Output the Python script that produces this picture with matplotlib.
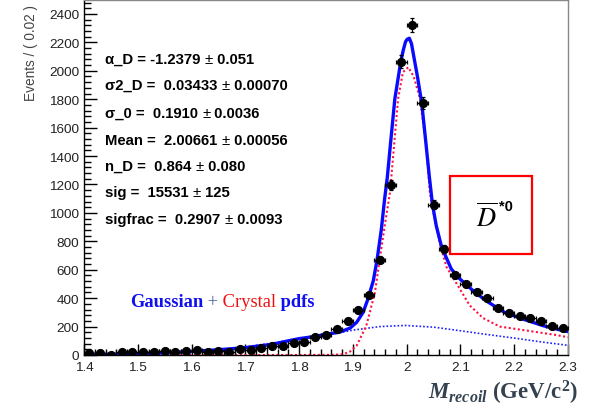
import numpy as np
import matplotlib
matplotlib.use('Agg')
import matplotlib.pyplot as plt
from matplotlib.ticker import MultipleLocator, FuncFormatter
from matplotlib.patches import Rectangle

# ---------------- data ----------------
bin_centers = [1.41, 1.43, 1.45, 1.47, 1.49, 1.51, 1.53, 1.55, 1.57, 1.59,
               1.61, 1.63, 1.65, 1.67, 1.69, 1.71, 1.73, 1.75, 1.77, 1.79,
               1.81, 1.83, 1.85, 1.87, 1.89, 1.91, 1.93, 1.95, 1.97, 1.99,
               2.01, 2.03, 2.05, 2.07, 2.09, 2.11, 2.13, 2.15, 2.17, 2.19,
               2.21, 2.23, 2.25, 2.27, 2.29]
counts = [12, 14, 2, 20, 20, 20, 20, 28, 22, 26,
          35, 22, 30, 22, 40, 37, 52, 61, 66, 82,
          94, 124, 141, 183, 237, 319, 422, 671, 1198, 2064,
          2320, 1773, 1058, 746, 563, 500, 441, 399, 329, 293,
          277, 258, 242, 206, 188]

fit_x = [1.40, 1.45, 1.50, 1.55, 1.60, 1.65, 1.70, 1.75, 1.78, 1.80,
         1.83, 1.85, 1.875, 1.895, 1.907, 1.919, 1.928, 1.938, 1.945, 1.953,
         1.959, 1.964, 1.969, 1.978, 1.989, 1.994, 1.998, 2.001, 2.005, 2.009,
         2.015, 2.020, 2.028, 2.035, 2.042, 2.048, 2.055, 2.065, 2.083, 2.099,
         2.127, 2.152, 2.182, 2.216, 2.254, 2.291, 2.30]
fit_total = [3, 5, 9, 15, 25, 37, 52, 75, 100, 115,
             131, 146, 160, 190, 230, 300, 394, 523, 671, 887,
             1098, 1250, 1450, 1802, 2064, 2150, 2205, 2222, 2229, 2190,
             2064, 1960, 1773, 1520, 1260, 1060, 910, 760, 605, 535,
             441, 371, 300, 253, 206, 171, 165]

cb_x = [1.40, 1.60, 1.80, 1.86, 1.882, 1.895, 1.907, 1.925, 1.941, 1.950,
        1.960, 1.969, 1.976, 1.984, 1.993, 2.003, 2.013, 2.025, 2.037, 2.043,
        2.050, 2.062, 2.074, 2.099, 2.117, 2.142, 2.173, 2.223, 2.279, 2.30]
cb_vals = [0, 0, 0, 1, 5, 25, 66, 206, 441, 676,
           930, 1145, 1450, 1802, 1990, 2025, 1960, 1802, 1450, 1145,
           1000, 780, 620, 464, 350, 260, 200, 172, 140, 125]

gauss_x = [1.40, 1.45, 1.50, 1.55, 1.60, 1.65, 1.70, 1.75, 1.80, 1.85,
           1.888, 1.90, 1.95, 1.997, 2.05, 2.099, 2.142, 2.204, 2.25, 2.30]
gauss_vals = [1.5, 3, 6, 12, 21, 36, 57, 84, 114, 145,
              166, 175, 200, 208, 196, 171, 148, 117, 92, 68]

param_names = ["\u03b1_D = ", "\u03c32_D = ", "\u03c3_0 = ", "Mean = ",
               "n_D = ", "sig = ", "sigfrac = "]
param_values = ["-1.2379 ", " 0.03433 ", " 0.1910 ", " 2.00661 ",
                " 0.864 ", " 15531 ", " 0.2907 "]
param_errors = [" 0.051", " 0.00070", " 0.0036", " 0.00056",
                " 0.080", " 125", " 0.0093"]

legend_parts = [("Gaussian", "#1010ee", "bold"),
                (" +", "#4a5a9a", "normal"),
                (" Crystal", "#ee1111", "normal"),
                (" pdfs", "#1010ee", "bold")]

# ---------------- figure ----------------
W, H = 589, 410
plt.rcParams['mathtext.fontset'] = 'custom'
plt.rcParams['mathtext.it'] = 'Liberation Serif:italic:bold'
plt.rcParams['mathtext.rm'] = 'Liberation Serif:bold'
plt.rcParams['mathtext.bf'] = 'Liberation Serif:bold'

fig = plt.figure(figsize=(W / 100, H / 100), dpi=100)
ax = fig.add_axes([84 / W, 1 - 356 / H, (568 - 84) / W, (356 - 1) / H])
ax.set_xlim(1.4, 2.3)
ax.set_ylim(0, 2498)

ax.plot(gauss_x, gauss_vals, linestyle=(0, (1, 1.2)), color='#2020ff', lw=1.2, zorder=2)
ax.plot(cb_x, cb_vals, linestyle=(0, (1, 1.2)), color='#ff1040', lw=1.5, zorder=2)
ax.plot(fit_x, fit_total, '-', color='#0a0aff', lw=2.4, zorder=3)

cnt = np.array(counts, dtype=float)
ax.errorbar(bin_centers, cnt, xerr=0.01, yerr=np.sqrt(cnt), fmt='o', color='black',
            ms=5.6, elinewidth=0.9, capsize=1.6, capthick=0.9, zorder=4)

# axes style
for side in ['top', 'right']:
    ax.spines[side].set_color('#888888')
    ax.spines[side].set_linewidth(1.0)
for side in ['left', 'bottom']:
    ax.spines[side].set_color('black')
    ax.spines[side].set_linewidth(1.0)

ax.xaxis.set_major_locator(MultipleLocator(0.1))
ax.xaxis.set_minor_locator(MultipleLocator(0.02))
ax.yaxis.set_major_locator(MultipleLocator(200))
ax.yaxis.set_minor_locator(MultipleLocator(40))
ax.xaxis.set_major_formatter(FuncFormatter(lambda v, p: f"{round(v, 2):g}"))
ax.tick_params(axis='both', which='both', direction='in', top=False, right=False,
               labelsize=9.7, colors='black', labelcolor='#222222')
ax.tick_params(axis='y', which='major', length=9.5, width=1.0, pad=3.5)
ax.tick_params(axis='y', which='minor', length=5, width=1.0)
ax.tick_params(axis='x', which='major', length=8, width=1.0, pad=4.5)
ax.tick_params(axis='x', which='minor', length=4.3, width=1.0)
for lab in ax.get_xticklabels() + ax.get_yticklabels():
    lab.set_family('Liberation Sans')

# y label
fig.text(31 / W, 1 - 5 / H, "Events / ( 0.02 )", rotation=90, ha='center', va='top',
         color='#444444', fontsize=9.8, family='Liberation Sans')

renderer = fig.canvas.get_renderer()

# parameter box text
ys = [60, 86, 114, 141, 167, 193, 220]
for name, val, err, y in zip(param_names, param_values, param_errors, ys):
    xp = 105
    for s, wgt in [(name + val, 'bold'), ("\u00b1", 'normal'), (err, 'bold')]:
        t = fig.text(xp / W, 1 - y / H, s, ha='left', va='center', fontsize=10.7,
                     fontweight=wgt, family='Liberation Sans', color='black')
        xp += t.get_window_extent(renderer).width

# legend-like text
xpix = 130
for s, c, w in legend_parts:
    t = fig.text(xpix / W, 1 - 303 / H, s, color=c, fontweight=w, family='Liberation Serif',
                 fontsize=13.3, ha='left', va='center')
    xpix += t.get_window_extent(renderer).width

# red box with D*0
rect = Rectangle((450 / W, 1 - 255 / H), 82 / W, 78 / H, transform=fig.transFigure,
                 facecolor='white', edgecolor='#ff0000', lw=1.6, zorder=10)
fig.patches.append(rect)
fig.text(487 / W, 1 - 218 / H, r"$\overline{D}$", ha='center', va='center',
         fontsize=19, math_fontfamily='stix', color='black', zorder=11)
fig.text(499 / W, 1 - 207 / H, "*0", ha='left', va='center',
         fontsize=10.5, family='Liberation Sans', fontweight='bold', color='black', zorder=11)

# x label
fig.text(578 / W, 1 - 400 / H, r"$M_{recoil}$ (GeV/c$^{2}$)", ha='right', va='baseline',
         fontsize=16.5, family='Liberation Serif', fontweight='bold', color='#34424f')

fig.savefig('out.png', dpi=100)
